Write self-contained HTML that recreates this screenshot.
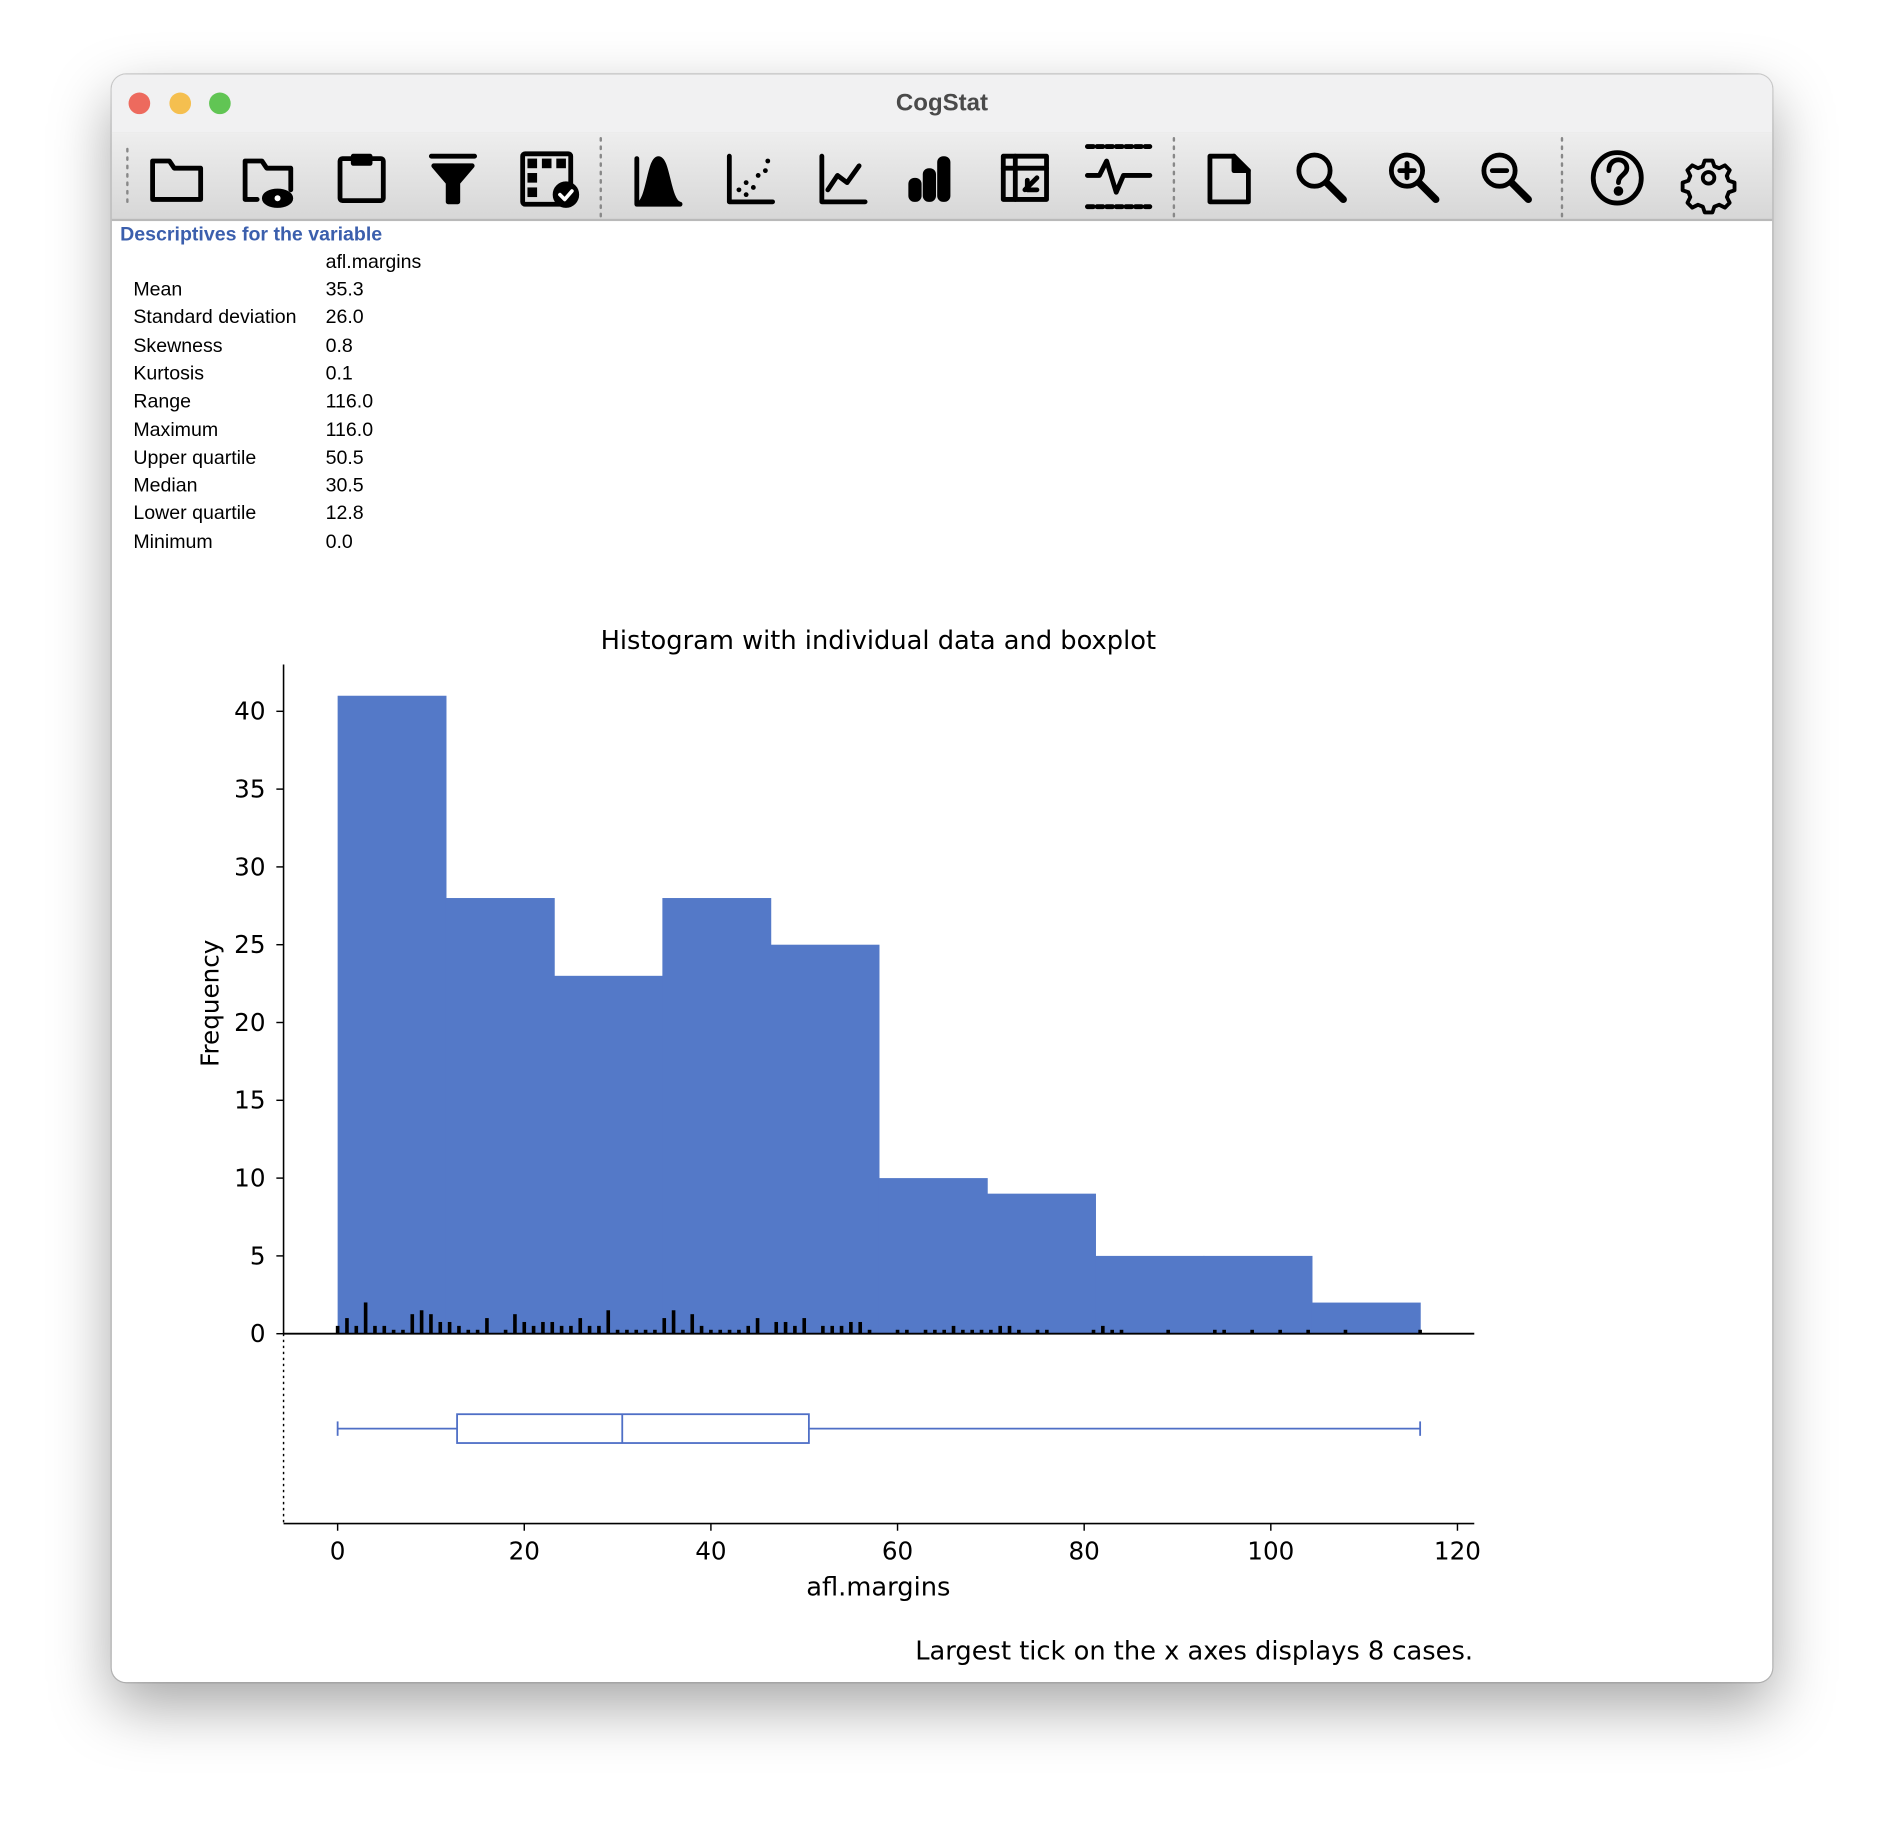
<!DOCTYPE html>
<html><head><meta charset="utf-8">
<style>
html,body{margin:0;padding:0;background:#fff;width:1884px;height:1830px;overflow:hidden}
#stage{position:absolute;left:0;top:0;width:1568px;height:1523px;transform:scale(1.20153);transform-origin:0 0}
#win{position:absolute;left:93px;top:62px;width:1382px;height:1338px;border-radius:12px;background:#fff;box-shadow:0 20px 50px rgba(0,0,0,0.35),0 0 0 1px rgba(0,0,0,0.18);overflow:hidden}
#titlebar{position:absolute;left:0;top:0;width:100%;height:48px;background:#f1f1f2;border-bottom:1px solid #dcdcdc}
#title{position:absolute;left:0;width:100%;top:13px;text-align:center;font:bold 20px "Liberation Sans",sans-serif;color:#4a4a4a}
.light{position:absolute;top:15px;width:18px;height:18px;border-radius:50%}
#toolbar{position:absolute;left:0;top:48px;width:100%;height:72px;background:linear-gradient(#eeeeee,#d7d7d7);border-bottom:2px solid #b9b9b9}
.txt{position:absolute;font:16.3px "Liberation Sans",sans-serif;color:#000;white-space:nowrap}
#chart{position:absolute;left:0;top:0}
</style></head>
<body>
<div id="stage">
<div id="win">
  <div id="titlebar">
    <div class="light" style="left:14px;background:#ed6a5e"></div>
    <div class="light" style="left:48px;background:#f5bf4f"></div>
    <div class="light" style="left:81px;background:#61c554"></div>
    <div id="title">CogStat</div>
  </div>
  <div id="toolbar">
   <svg width="1382" height="72" style="position:absolute;left:0;top:0" fill="none" stroke="#000" stroke-width="4" stroke-linejoin="round" stroke-linecap="round">
    <g stroke="#888" stroke-width="2" stroke-dasharray="2 5"><line x1="13" y1="14" x2="13" y2="60"/><line x1="407" y1="5" x2="407" y2="70"/><line x1="884" y1="5" x2="884" y2="70"/><line x1="1207" y1="5" x2="1207" y2="70"/></g>
    <g><path d="M34 24h14l4 6h22v26h-40z"/></g>
    <g><path d="M111 24h14l4 6h20v18M121 56h-10v-32"/><ellipse cx="138" cy="55" rx="11" ry="6" fill="#000"/><circle cx="138" cy="55" r="2.5" fill="#fff" stroke="none"/></g>
    <g><rect x="190" y="22" width="36" height="35" rx="2"/><path d="M201 20h14v6h-14z" fill="#000"/></g>
    <g><path d="M266 20h36M268 28h32l-12 14v16h-8v-16z" fill="#000"/></g>
    <g><rect x="342" y="18" width="40" height="42" rx="2"/><g fill="#000" stroke="none"><rect x="346" y="22" width="8" height="8"/><rect x="358" y="22" width="8" height="8"/><rect x="370" y="22" width="8" height="8"/><rect x="346" y="34" width="8" height="8"/><rect x="346" y="46" width="8" height="8"/></g><circle cx="378" cy="52" r="9" fill="#000"/><path d="M373 52l4 4 6-7" stroke="#fff" stroke-width="3"/></g>
    <g><path d="M437 60v-38M437 60h36c-10-2-10-38-18-38c-8 0-8 38-18 38z" fill="#000"/></g>
    <g><path d="M514 20v38h36"/><g fill="#000" stroke="none"><circle cx="522" cy="48" r="2"/><circle cx="528" cy="42" r="2"/><circle cx="534" cy="46" r="2"/><circle cx="538" cy="36" r="2"/><circle cx="544" cy="32" r="2"/><circle cx="546" cy="24" r="2"/><circle cx="528" cy="52" r="2"/></g></g>
    <g><path d="M591 20v38h36M596 48l8-12 8 6 10-14"/></g>
    <g fill="#000"><rect x="665" y="40" width="7" height="16" rx="3"/><rect x="677" y="32" width="7" height="24" rx="3"/><rect x="689" y="22" width="7" height="34" rx="3"/></g>
    <g><rect x="742" y="20" width="36" height="36"/><path d="M742 30h36M752 20v36M760 48l10-10M762 40v8h8"/></g>
    <g><path d="M812 12h52M812 62h52" stroke-dasharray="5 3"/><path d="M812 36h10l6-12 8 26 6-14h22"/></g>
    <g><path d="M914 20h20l12 12v26h-32z"/><path d="M934 20v12h12" fill="#000"/></g>
    <g><circle cx="1001" cy="32" r="13"/><path d="M1011 42l14 14" stroke-width="6"/></g>
    <g><circle cx="1078" cy="32" r="13"/><path d="M1088 42l14 14" stroke-width="6"/><path d="M1078 26v12M1072 32h12"/></g>
    <g><circle cx="1155" cy="32" r="13"/><path d="M1165 42l14 14" stroke-width="6"/><path d="M1149 32h12"/></g>
    <g><ellipse cx="1253" cy="38" rx="20" ry="21"/><path d="M1246 32c0-6 4-9 8-9s7 3 7 7c0 5-7 6-7 12"/><circle cx="1254" cy="49" r="2" fill="#000"/></g>
    <g transform="translate(1329 38) scale(0.8) translate(-1329 -38)"><path d="M1325 20h8l2 6 5 2 6-3 5 5-3 6 2 5 6 2v8l-6 2-2 5 3 6-5 5-6-3-5 2-2 6h-8l-2-6-5-2-6 3-5-5 3-6-2-5-6-2v-8l6-2 2-5-3-6 5-5 6 3 5-2z"/><circle cx="1329" cy="38" r="6"/></g>
   </svg>
  </div>
</div>
<div class="txt" style="left:100px;top:186px;color:#3b5fad;font-weight:bold">Descriptives for the variable</div>
<div class="txt" style="left:271px;top:209px">afl.margins</div>
<div id="desc"></div>
<svg id="chart" width="1568" height="1523"></svg>
</div>
<script>
const statLabels=["Mean","Standard deviation","Skewness","Kurtosis","Range","Maximum","Upper quartile","Median","Lower quartile","Minimum"];
const statValues=["35.3","26.0","0.8","0.1","116.0","116.0","50.5","30.5","12.8","0.0"];
const binEdges=[0,11.6,23.2,34.8,46.4,58,69.6,81.2,92.8,104.4,116];
const binCounts=[41,28,23,28,25,10,9,5,5,2];
const rugValues=[0,1,2,3,4,5,6,7,8,9,10,11,12,13,14,15,16,18,19,20,21,22,23,24,25,26,27,28,29,30,31,32,33,34,35,36,37,38,39,40,41,42,43,44,45,47,48,49,50,52,53,54,55,56,57,60,61,63,64,65,66,67,68,69,70,71,72,73,75,76,81,82,83,84,89,94,95,98,101,104,108,116];
const rugCounts=[2,4,2,8,2,2,1,1,5,6,5,3,3,2,1,1,4,1,5,3,2,3,3,2,2,4,2,2,6,1,1,1,1,1,4,6,1,5,2,1,1,1,1,2,4,3,3,2,4,2,2,2,3,3,1,1,1,1,1,1,2,1,1,1,1,2,2,1,1,1,1,2,1,1,1,1,1,1,1,1,1,1];
const boxStats={min:0,q1:12.8,median:30.5,q3:50.5,max:116};
const yTicks=[0,5,10,15,20,25,30,35,40];
const xTicks=[0,20,40,60,80,100,120];

const desc=document.getElementById('desc');
statLabels.forEach((l,i)=>{
  const a=document.createElement('div');a.className='txt';a.style.left='111px';a.style.top=(232+i*23.3)+'px';a.textContent=l;
  
  
  desc.appendChild(a);
  const b=document.createElement('div');b.className='txt';b.style.left='271px';b.style.top=(232+i*23.3)+'px';b.textContent=statValues[i];
  
  
  desc.appendChild(b);
});

const svg=document.getElementById('chart');const NS='http://www.w3.org/2000/svg';
const X=v=>281+v*(1213-281)/120;
const Y=v=>1110-v*(1110-592)/40;
const rugScale=26/8;
function el(t,at,name,txt){const e=document.createElementNS(NS,t);for(const k in at)e.setAttribute(k,at[k]);
  
  
  if(txt!==undefined)e.textContent=txt;svg.appendChild(e);return e;}
const F='"DejaVu Sans","Liberation Sans",sans-serif';
el('text',{x:731,y:540,'text-anchor':'middle','font-family':F,'font-size':21.4},'chart-title','Histogram with individual data and boxplot');
binCounts.forEach((c,i)=>{
  el('rect',{x:X(binEdges[i]),y:Y(c),width:X(binEdges[i+1])-X(binEdges[i])+0.5,height:Y(0)-Y(c),fill:'#5479c8'},'histogram-bar');
});
rugValues.forEach((v,i)=>{
  const h=rugCounts[i]*rugScale;
  el('rect',{x:X(v)-1.5,y:1110-h,width:3,height:h,fill:'#000'},'rug-tick');
});
el('line',{x1:236,y1:553,x2:236,y2:1110,stroke:'#000','stroke-width':1.3},'y-axis');
el('line',{x1:236,y1:1110,x2:1227,y2:1110,stroke:'#000','stroke-width':1.5},'x-axis-top');
el('line',{x1:236,y1:1110,x2:236,y2:1268,stroke:'#000','stroke-width':1.2,'stroke-dasharray':'2 3'},'box-y-axis');
el('line',{x1:236,y1:1268,x2:1227,y2:1268,stroke:'#000','stroke-width':1.3},'x-axis');
yTicks.forEach(t=>{
  el('line',{x1:230,y1:Y(t),x2:236,y2:Y(t),stroke:'#000','stroke-width':1.2},'y-tick');
  el('text',{x:221,y:Y(t)+7,'text-anchor':'end','font-family':F,'font-size':20.5},'y-tick-label',String(t));
});
xTicks.forEach(t=>{
  el('line',{x1:X(t),y1:1268,x2:X(t),y2:1274,stroke:'#000','stroke-width':1.2},'x-tick');
  el('text',{x:X(t),y:1298,'text-anchor':'middle','font-family':F,'font-size':20.5},'x-tick-label',String(t));
});
el('text',{x:731,y:1328,'text-anchor':'middle','font-family':F,'font-size':21.4},'x-axis-title','afl.margins');
el('text',{x:182,y:835,'text-anchor':'middle','font-family':F,'font-size':20.5,transform:'rotate(-90 182 835)'},'y-axis-title','Frequency');
const bc='#4f6fc6',by=1189;
el('line',{x1:X(boxStats.min),y1:by,x2:X(boxStats.q1),y2:by,stroke:bc,'stroke-width':1.5},'lower-whisker');
el('line',{x1:X(boxStats.q3),y1:by,x2:X(boxStats.max),y2:by,stroke:bc,'stroke-width':1.5},'upper-whisker');
el('line',{x1:X(boxStats.min),y1:by-6,x2:X(boxStats.min),y2:by+6,stroke:bc,'stroke-width':1.5},'min-cap');
el('line',{x1:X(boxStats.max),y1:by-6,x2:X(boxStats.max),y2:by+6,stroke:bc,'stroke-width':1.5},'max-cap');
el('rect',{x:X(boxStats.q1),y:by-12,width:X(boxStats.q3)-X(boxStats.q1),height:24,fill:'none',stroke:bc,'stroke-width':1.5},'box-iqr');
el('line',{x1:X(boxStats.median),y1:by-12,x2:X(boxStats.median),y2:by+12,stroke:bc,'stroke-width':1.5},'median-line');
el('text',{x:1226,y:1381,'text-anchor':'end','font-family':F,'font-size':21.4},'chart-note','Largest tick on the x axes displays 8 cases.');
</script>
</body></html>
